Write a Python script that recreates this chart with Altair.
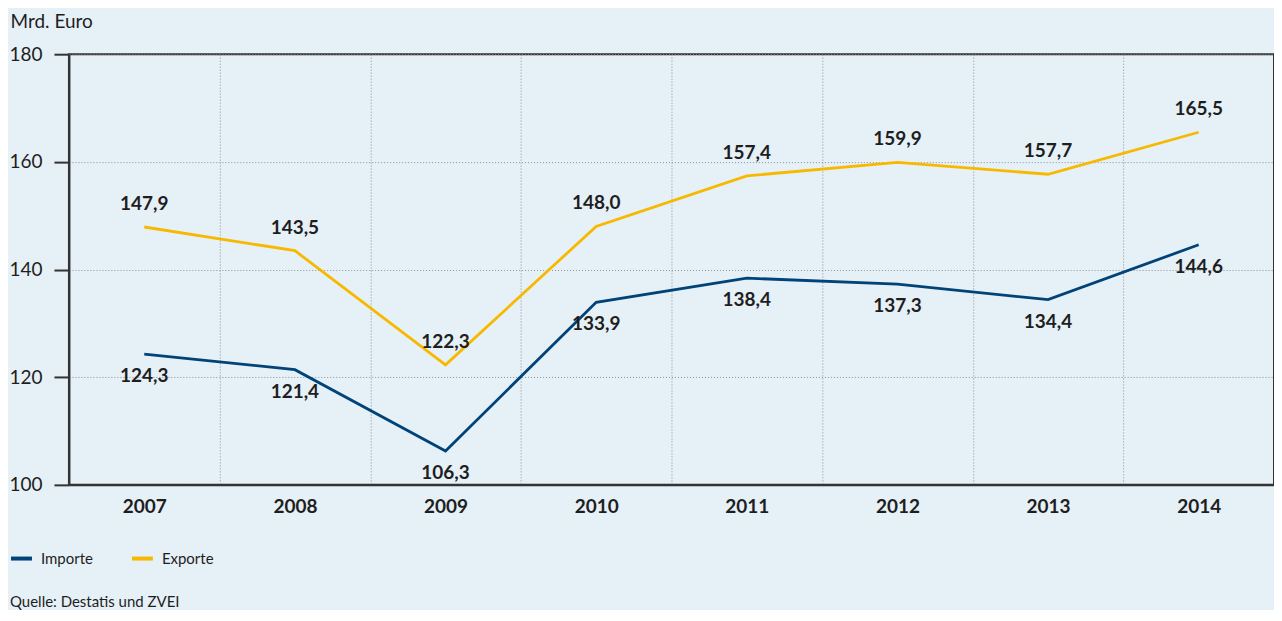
import altair as alt
import pandas as pd

years = ["2007", "2008", "2009", "2010", "2011", "2012", "2013", "2014"]
importe = [124.3, 121.4, 106.3, 133.9, 138.4, 137.3, 134.4, 144.6]
exporte = [147.9, 143.5, 122.3, 148.0, 157.4, 159.9, 157.7, 165.5]
series = ["Importe", "Exporte"]
colors = ["#004378", "#f7b900"]
y_ticks = [100, 120, 140, 160, 180]
source_text = "Quelle: Destatis und ZVEI"

rows = []
for i, y in enumerate(years):
    rows.append({"Jahr": y, "Serie": "Importe", "Wert": importe[i]})
    rows.append({"Jahr": y, "Serie": "Exporte", "Wert": exporte[i]})
df = pd.DataFrame(rows)

FONT = "Lato"
TXT = "#1e1e1e"
BG = "#e6f0f7"

x_enc = alt.X(
    "Jahr:N",
    sort=years,
    bandPosition=0.5,
    scale=alt.Scale(type="band", paddingInner=0, paddingOuter=0),
    axis=alt.Axis(
        title=None,
        labelAngle=0,
        labelFont=FONT,
        labelFontSize=19,
        labelFontWeight="bold",
        labelColor=TXT,
        labelPadding=13,
        ticks=False,
        tickBand="extent",
        grid=True,
        gridColor="#8a8f94",
        gridDash=[1, 2],
        gridWidth=1,
        domainColor="#333333",
        domainWidth=2,
    ),
)
y_enc = alt.Y(
    "Wert:Q",
    scale=alt.Scale(domain=[100, 180], nice=False, zero=False),
    axis=alt.Axis(
        values=y_ticks,
        title="Mrd. Euro",
        titleAngle=0,
        titleAlign="left",
        titleBaseline="top",
        titleX=-59,
        titleY=-42,
        titleFont=FONT,
        titleFontSize=19,
        titleFontWeight="normal",
        titleColor=TXT,
        labelFont=FONT,
        labelFontSize=19,
        labelColor=TXT,
        labelPadding=12,
        tickSize=15,
        tickWidth=2,
        tickColor="#333333",
        domainColor="#333333",
        domainWidth=2,
        grid=True,
        gridColor="#8a8f94",
        gridDash=[1, 2],
        gridWidth=1,
    ),
)

base = alt.Chart(df)

lines = base.mark_line(strokeWidth=2.8).encode(
    x=x_enc,
    y=y_enc,
    color=alt.Color(
        "Serie:N",
        scale=alt.Scale(domain=series, range=colors),
        legend=alt.Legend(
            title=None,
            orient="none",
            direction="horizontal",
            legendX=-60,
            legendY=492,
            symbolType="stroke",
            symbolStrokeWidth=4,
            symbolSize=440,
            labelFont=FONT,
            labelFontSize=15,
            labelColor=TXT,
            labelOffset=7,
            columnPadding=30,
        ),
    ),
)

label_expr = "replace(format(datum.Wert, '.1f'), '.', ',')"

exp_labels = base.transform_filter("datum.Serie == 'Exporte'").transform_calculate(
    lab=label_expr
).mark_text(font=FONT, fontSize=19, fontWeight="bold", color=TXT, dy=-23).encode(
    x=alt.X("Jahr:N", sort=years, bandPosition=0.5),
    y="Wert:Q",
    text="lab:N",
)

imp_labels = base.transform_filter("datum.Serie == 'Importe'").transform_calculate(
    lab=label_expr
).mark_text(font=FONT, fontSize=19, fontWeight="bold", color=TXT, dy=22).encode(
    x=alt.X("Jahr:N", sort=years, bandPosition=0.5),
    y="Wert:Q",
    text="lab:N",
)

footnote = alt.Chart(pd.DataFrame({"t": [source_text]})).mark_text(
    align="left", baseline="middle", font=FONT, fontSize=15, color=TXT
).encode(text="t:N", x=alt.value(-59), y=alt.value(548))

chart = (
    alt.layer(lines, exp_labels, imp_labels, footnote)
    .properties(
        width=1206,
        height=431,
        background=BG,
        padding={"top": 4, "left": 0, "right": 0, "bottom": 0},
    )
    .configure_view(stroke="#333333", strokeWidth=2)
)

chart.save("out.html", embed_options={"renderer": "svg", "actions": False})
